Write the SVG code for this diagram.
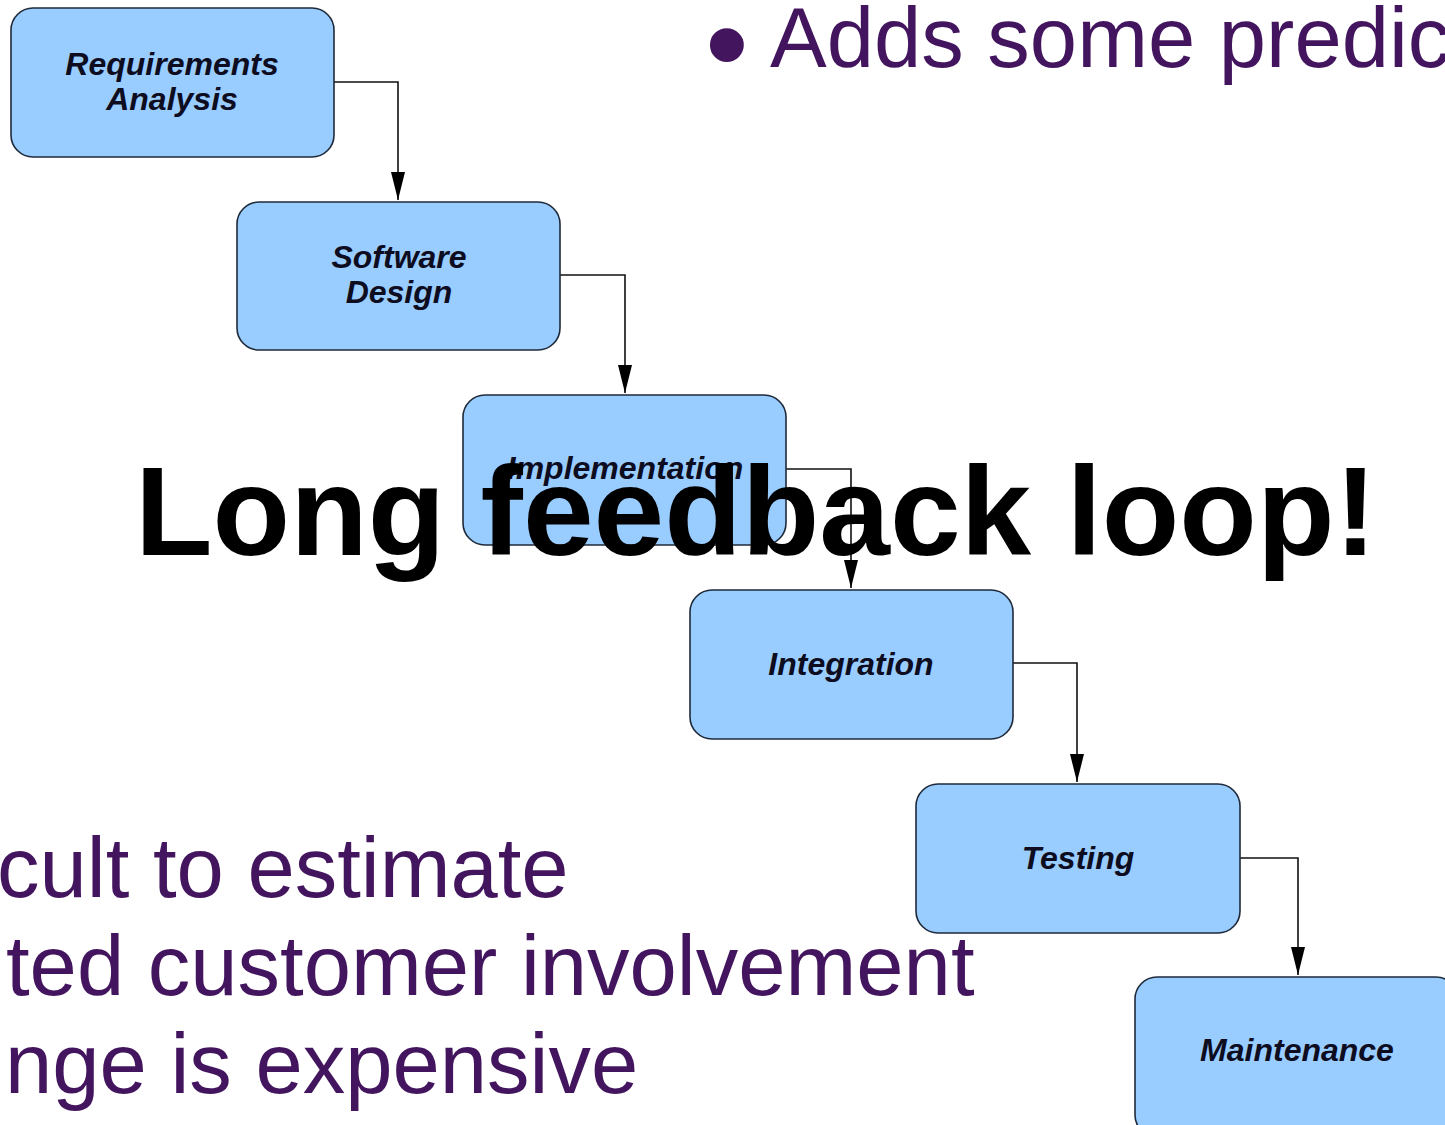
<svg xmlns="http://www.w3.org/2000/svg" width="1445" height="1125" viewBox="0 0 1445 1125">
<defs>
<style>
.node rect{fill:#99ccff;stroke:#1e2a3a;stroke-width:1.6}
.node text{font-family:"Liberation Sans",Arial,sans-serif;font-weight:bold;font-style:italic;font-size:32px;fill:#0d0d1f;text-anchor:middle}
.conn path{fill:none;stroke:#111;stroke-width:1.6}
.purple{font-family:"Liberation Sans",Arial,sans-serif;font-size:85px;fill:#44155f}
.big{font-family:"Liberation Sans",Arial,sans-serif;font-weight:bold;font-size:127px;fill:#000}
</style>
<marker id="arr" markerUnits="userSpaceOnUse" markerWidth="30" markerHeight="16" refX="28" refY="7" orient="auto">
<path d="M0,0 L28,7 L0,14 z" fill="#000"/>
</marker>
</defs>
<rect width="1445" height="1125" fill="#fff"/>
<g class="conn">
<path d="M334,82 H398 V200" marker-end="url(#arr)"/>
<path d="M560,275 H625 V393" marker-end="url(#arr)"/>
<path d="M786,469 H851 V588" marker-end="url(#arr)"/>
<path d="M1013,663 H1077 V782" marker-end="url(#arr)"/>
<path d="M1240,858 H1298 V975" marker-end="url(#arr)"/>
</g>
<g id="n1" class="node"><rect x="11" y="8" width="323" height="149" rx="22"/><text x="172" y="75">Requirements</text><text x="172" y="110">Analysis</text></g>
<g id="n2" class="node"><rect x="237" y="202" width="323" height="148" rx="22"/><text x="399" y="268">Software</text><text x="399" y="303">Design</text></g>
<g id="n3" class="node"><rect x="463" y="395" width="323" height="150" rx="22"/><text x="625" y="479">Implementation</text></g>
<g id="n4" class="node"><rect x="690" y="590" width="323" height="149" rx="22"/><text x="851" y="675">Integration</text></g>
<g id="n5" class="node"><rect x="916" y="784" width="324" height="149" rx="22"/><text x="1078" y="869">Testing</text></g>
<g id="n6" class="node"><rect x="1135" y="977" width="323" height="160" rx="22"/><text x="1297" y="1061">Maintenance</text></g>
<text class="purple" x="727" y="86" text-anchor="middle" style="font-size:125px">•</text>
<text class="purple" x="770" y="67">Adds some predic</text>
<text class="purple" x="-3" y="897">cult to estimate</text>
<text class="purple" x="6" y="995">ted customer involvement</text>
<text class="purple" x="5" y="1093">nge is expensive</text>
<text class="big" x="135" y="555">Long feedback loop!</text>
</svg>
